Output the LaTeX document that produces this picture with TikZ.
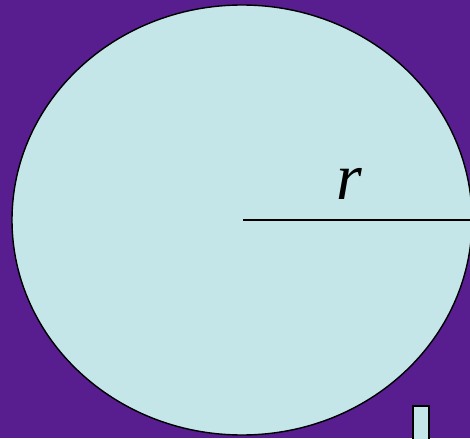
\documentclass[tikz,border=0pt]{standalone}
\usepackage{fontspec}
\setmainfont{Liberation Serif}
\usetikzlibrary{positioning,shapes.geometric}
\definecolor{Plum}{HTML}{581E90}
\definecolor{Ice}{HTML}{C4E6E8}
\definecolor{Ink}{HTML}{000000}
\tikzset{
  disc/.style={
    ellipse, draw=Ink, line width=1.4pt, fill=Ice,
    minimum width=460pt, minimum height=430pt, inner sep=0pt
  },
  radius/.style={draw=Ink, line width=1.8pt},
  tab/.style={draw=Ink, line width=2pt, fill=Ice}
}

\begin{document}
\begin{tikzpicture}[x=1pt,y=-1pt]
    \useasboundingbox (0,0) rectangle (470,438);
    \fill[Plum] (0,0) rectangle (470,438);
    \node[disc] (circle) at (242,220) {};
    \coordinate (centre) at (243,220);
    \coordinate (rim) at (470,220);
    \draw[radius] (centre)--(rim);
    \node[font=\fontsize{66}{66}\selectfont\itshape] (rlabel) at (349,184) {r};
    \draw[tab] (412.5,405.5) rectangle (429,445);
  \end{tikzpicture}
\end{document}
